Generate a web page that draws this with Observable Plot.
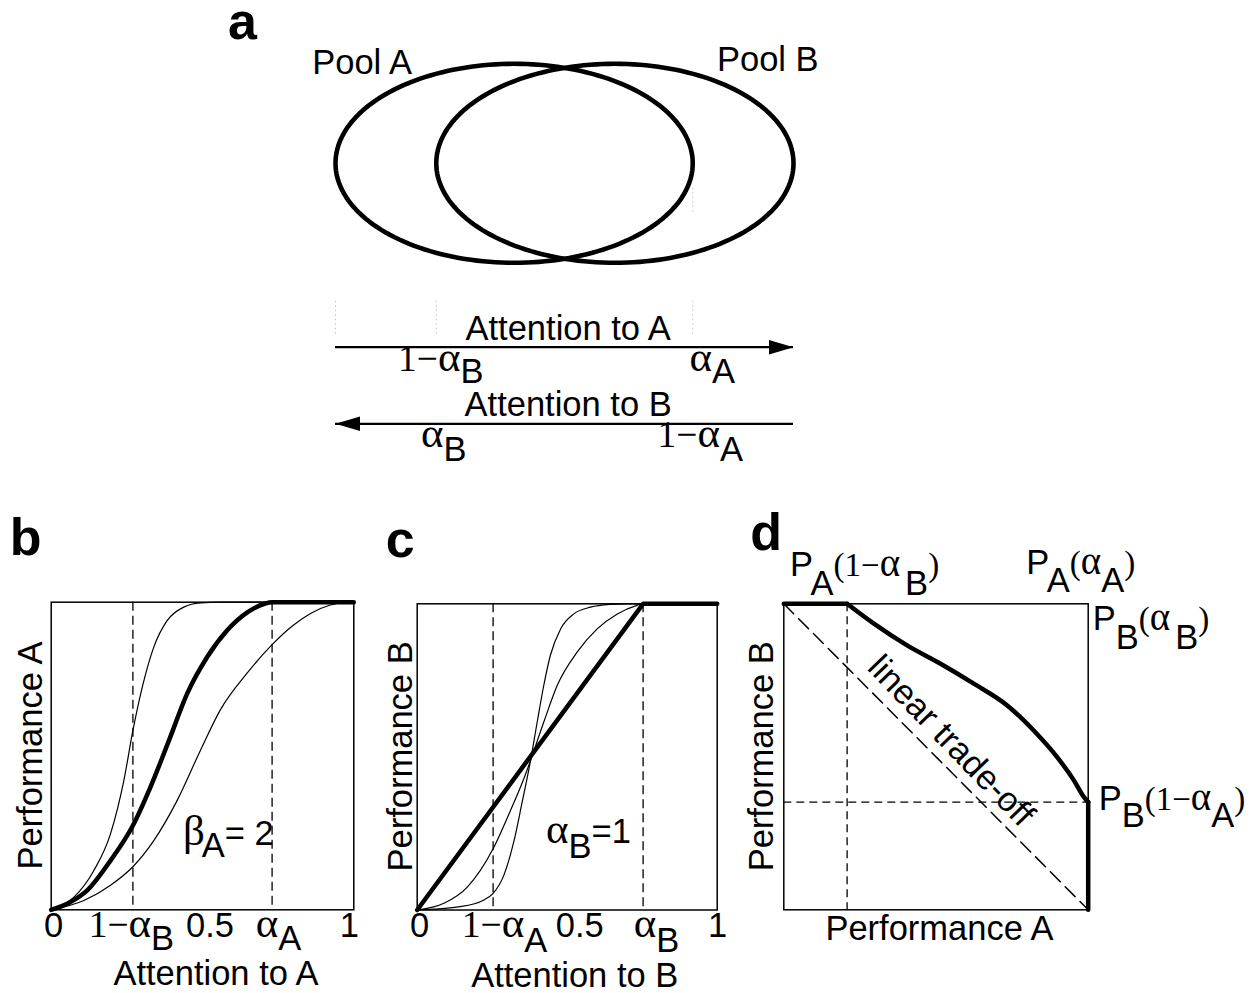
<!DOCTYPE html>
<html>
<head>
<meta charset="utf-8">
<script src="https://cdn.jsdelivr.net/npm/d3@7"></script>
<script src="https://cdn.jsdelivr.net/npm/@observablehq/plot@0.6"></script>
<style>
  html, body { margin: 0; padding: 0; background: #fff; }
  #figure { position: relative; width: 1250px; height: 993px; background: #fff; overflow: hidden; }
  #figure > svg { position: absolute; }
</style>
</head>
<body>
<div id="figure"></div>
<script>
// ---------- panel a: two overlapping pools on the attention axis ----------
const poolAlphaA = 0.78;                 // reach of pool A along "attention to A"
const poolAlphaB = 0.78;                 // reach of pool B along "attention to B"
const poolNames = ["Pool A", "Pool B"];
const poolSpans = [[0, poolAlphaA], [1 - poolAlphaB, 1]];
const arrowTitles = ["Attention to A", "Attention to B"];
const arrowSpans = [[0, 1], [1, 0]];     // [tail, head] in attention-to-A units
const arrowTickPos = [1 - poolAlphaB, poolAlphaA];
const arrowTickLabelsA = [[["1−", "r"], ["α", "g"], ["B", "_"]], [["α", "g"], ["A", "_"]]];
const arrowTickLabelsB = [[["α", "g"], ["B", "_"]], [["1−", "r"], ["α", "g"], ["A", "_"]]];

// ---------- panel b: performance A vs attention to A ----------
const bOneMinusAlphaB = 0.27, bAlphaA = 0.73;
const bTicks = [0, bOneMinusAlphaB, 0.5, bAlphaA, 1];
const bTickLabels = [[["0"]], [["1−", "r"], ["α", "g"], ["B", "_"]], [["0.5"]], [["α", "g"], ["A", "_"]], [["1"]]];
const bThick = [[0, 0], [0.053, 0.02], [0.119, 0.063], [0.196, 0.16], [0.27, 0.274], [0.328, 0.399],
  [0.389, 0.55], [0.449, 0.702], [0.515, 0.821], [0.581, 0.908], [0.648, 0.967], [0.705, 0.995], [0.73, 1], [1, 1]];
const bSteep = [[0, 0], [0.075, 0.041], [0.141, 0.128], [0.196, 0.247], [0.24, 0.42], [0.27, 0.583],
  [0.301, 0.724], [0.339, 0.854], [0.383, 0.94], [0.438, 0.984], [0.493, 0.998], [0.56, 1], [1, 1]];
const bShallow = [[0, 0], [0.108, 0.03], [0.196, 0.08], [0.27, 0.14], [0.339, 0.225], [0.416, 0.355],
  [0.493, 0.518], [0.559, 0.65], [0.648, 0.77], [0.73, 0.862], [0.8, 0.925], [0.86, 0.965], [0.92, 0.99],
  [0.97, 0.999], [1, 1]];

// ---------- panel c: performance B vs attention to B ----------
const cOneMinusAlphaA = 0.253, cAlphaB = 0.753;
const cTicks = [0, cOneMinusAlphaA, 0.5, cAlphaB, 1];
const cTickLabels = [[["0"]], [["1−", "r"], ["α", "g"], ["A", "_"]], [["0.5"]], [["α", "g"], ["B", "_"]], [["1"]]];
const cThick = [[0, 0], [cAlphaB, 1], [1, 1]];
const cMid = [[0, 0], [0.089, 0.022], [0.167, 0.075], [0.253, 0.2], [0.311, 0.325], [0.356, 0.43],
  [0.378, 0.489], [0.422, 0.614], [0.467, 0.734], [0.533, 0.842], [0.6, 0.918], [0.667, 0.967], [0.733, 0.995], [0.753, 1], [1, 1]];
const cSteep = [[0, 0], [0.144, 0.011], [0.222, 0.033], [0.253, 0.054], [0.289, 0.114], [0.322, 0.223],
  [0.35, 0.353], [0.378, 0.489], [0.4, 0.614], [0.422, 0.734], [0.444, 0.832], [0.478, 0.918],
  [0.522, 0.967], [0.578, 0.989], [0.644, 0.998], [0.7, 1], [1, 1]];

// ---------- panel d: performance B vs performance A ----------
const dPA_oneMinusAlphaB = 0.208;        // P_A(1−α_B)
const dPB_oneMinusAlphaA = 0.352;        // P_B(1−α_A)
const dTop = [[0, 1], [dPA_oneMinusAlphaB, 1]];
const dCurve = [[dPA_oneMinusAlphaB, 1], [0.296, 0.935], [0.405, 0.864], [0.515, 0.804], [0.624, 0.739],
  [0.734, 0.668], [0.821, 0.586], [0.898, 0.499], [0.953, 0.423], [0.986, 0.368], [1, dPB_oneMinusAlphaA]];
const dDrop = [[1, dPB_oneMinusAlphaA], [1, 0]];
const dLinear = [[0, 1], [1, 0]];

// ---------- drawing ----------
const SANS = "'Liberation Sans', Arial, Helvetica, sans-serif";
const SERIF = "'Liberation Serif', 'Times New Roman', Times, serif";
const FS = 34.5;        // sans text
const fig = document.getElementById("figure");

function place(node, left, top) {
  node.style.left = left + "px";
  node.style.top = top + "px";
  fig.appendChild(node);
}

function scales(plot) {
  const f = (name) => {
    const s = plot.scale(name);
    return s.apply ? (v) => s.apply(v) : d3.scaleLinear(s.domain, s.range);
  };
  return [f("x"), f("y")];
}

// Text with sans/serif runs and lowered subscripts; a part is [string, kind, dx].
// kind: "" sans, "r" serif digits/brackets, "g" serif greek, "_" lowered subscript.
function rich(svg, x, y, parts, {anchor = "middle", rotate = 0, sub = 13, size = FS, weight = "normal",
                                  serif = 37.5, greek = 43} = {}) {
  const text = d3.select(svg).append("text")
    .attr("x", x).attr("y", y)
    .attr("text-anchor", anchor)
    .attr("fill", "black")
    .style("font-family", SANS)
    .style("font-size", size + "px")
    .style("font-weight", weight);
  if (rotate) text.attr("transform", `rotate(${rotate} ${x} ${y})`);
  let level = 0;
  for (const [str, kind = "", dx = 0] of parts) {
    const lower = kind.includes("_") ? sub : 0;
    const span = text.append("tspan").attr("dy", lower - level).text(str);
    if (dx) span.attr("dx", dx);
    if (kind.includes("r")) span.style("font-family", SERIF).style("font-size", serif + "px");
    if (kind.includes("g")) span.style("font-family", SERIF).style("font-size", greek + "px");
    level = lower;
  }
  return text;
}

function letter(svg, x, y, ch) {
  rich(svg, x, y, [[ch]], {anchor: "start", size: 52, weight: "bold"});
}

const px = (d) => d[0], py = (d) => d[1];
const common = {axis: null, style: {background: "none", overflow: "visible", fontFamily: SANS}};

// ----- panel a, pools -----
const angles = d3.range(0, 360, 2).map((a) => a * Math.PI / 180);
const outlines = poolSpans.flatMap(([x0, x1], i) =>
  angles.map((t) => ({pool: poolNames[i], x: (x0 + x1) / 2 + (x1 - x0) / 2 * Math.cos(t), y: Math.sin(t)})));

const plotA = Plot.plot({
  ...common, width: 1250, height: 290,
  marginLeft: 335, marginRight: 457, marginTop: 63.3, marginBottom: 27.7,
  x: {domain: [0, 1]}, y: {domain: [-1, 1]},
  marks: [
    Plot.ruleX([poolAlphaA], {y1: -0.25, y2: -0.5, stroke: "#c4c4c4", strokeDasharray: "1.5,3"}),
    Plot.line(outlines, {x: "x", y: "y", z: "pool", stroke: "black", strokeWidth: 4.6, curve: "linear-closed"})
  ]
});
place(plotA, 0, 0);
{
  const [sx, sy] = scales(plotA);
  rich(plotA, sx(0.168), sy(0.89), [[poolNames[0]]], {anchor: "end"});
  rich(plotA, sx(0.834), sy(0.922), [[poolNames[1]]], {anchor: "start"});
  letter(plotA, sx(0) - 107, 39, "a");
}

// ----- panel a, attention arrows -----
const arrows = arrowSpans.map(([from, to], row) => ({row, from, to, title: arrowTitles[row]}));
function headSymbol(dir) {
  return {
    draw(context, size) {
      const r = Math.sqrt(size / Math.PI);
      const len = r * 3.4 * dir;
      context.moveTo(0, 0);
      context.lineTo(-len, -r);
      context.lineTo(-len, r);
      context.closePath();
    }
  };
}
const plotArrows = Plot.plot({
  ...common, width: 1250, height: 190,
  marginLeft: 335, marginRight: 457, marginTop: 0, marginBottom: 0,
  x: {domain: [0, 1]}, y: {domain: [0, 1], range: [56.7, 133.3]},
  marks: [
    Plot.ruleX([0, ...arrowTickPos], {y1: -0.6, y2: -0.15, stroke: "#c4c4c4", strokeDasharray: "1.5,3"}),
    Plot.ruleY(arrows, {y: "row", x1: "from", x2: "to", stroke: "black", strokeWidth: 2.2}),
    Plot.dot(arrows.filter((d) => d.to > d.from), {x: "to", y: "row", r: 7.2, symbol: headSymbol(1), fill: "black", stroke: "none"}),
    Plot.dot(arrows.filter((d) => d.to < d.from), {x: "to", y: "row", r: 7.2, symbol: headSymbol(-1), fill: "black", stroke: "none"})
  ]
});
place(plotArrows, 0, 290);
{
  const [sx, sy] = scales(plotArrows);
  arrows.forEach((a) => rich(plotArrows, sx(0.509), sy(a.row) - 7, [[a.title]]));
  const nudgeA = [5, 20], nudgeB = [8, 8];
  arrowTickPos.forEach((t, i) => {
    rich(plotArrows, sx(t) + nudgeA[i], sy(0) + 24, arrowTickLabelsA[i], {sub: 12});
    rich(plotArrows, sx(t) + nudgeB[i], sy(1) + 24, arrowTickLabelsB[i], {sub: 14});
  });
}

// ----- panels b and c -----
function curvesPanel({left, margins, guides, thick, thin, thickCurve}) {
  const plot = Plot.plot({
    ...common, width: margins.width, height: 493,
    marginLeft: margins.l, marginRight: margins.r, marginTop: margins.t, marginBottom: margins.b,
    x: {domain: [0, 1]}, y: {domain: [0, 1]},
    marks: [
      Plot.frame({stroke: "black", strokeWidth: 1.5}),
      Plot.ruleX(guides, {stroke: "black", strokeWidth: 1.3, strokeDasharray: "9,5"}),
      ...thin.map((c) => Plot.line(c, {x: px, y: py, curve: "monotone-x", stroke: "black", strokeWidth: 1.2})),
      Plot.line(thick, {x: px, y: py, curve: thickCurve, stroke: "black", strokeWidth: 4.5})
    ]
  });
  place(plot, left, 500);
  return plot;
}

const plotB = curvesPanel({
  left: 0, margins: {width: 420, l: 50.7, r: 66.7, t: 101.7, b: 83.7},
  guides: [bOneMinusAlphaB, bAlphaA], thick: bThick, thin: [bSteep, bShallow], thickCurve: "monotone-x"
});
{
  const [sx, sy] = scales(plotB);
  const nudge = [3, -1, 8, 7, -4];
  bTicks.forEach((t, i) => rich(plotB, sx(t) + nudge[i], sy(0) + 27.4, bTickLabels[i], {sub: 13}));
  rich(plotB, sx(0) - 9, sy(0.5), [["Performance A"]], {rotate: -90});
  rich(plotB, sx(0.5) + 14, sy(0) + 76, [["Attention to A"]]);
  rich(plotB, sx(0.437), sy(0.209), [["β", "g"], ["A", "_", -3], ["= 2"]], {anchor: "start", sub: 12});
  letter(plotB, sx(0) - 41, sy(1) - 47, "b");
}

const plotC = curvesPanel({
  left: 370, margins: {width: 380, l: 46.7, r: 33.3, t: 103.3, b: 83.5},
  guides: [cOneMinusAlphaA, cAlphaB], thick: cThick, thin: [cMid, cSteep], thickCurve: "linear"
});
{
  const [sx, sy] = scales(plotC);
  const nudge = [3, 12, 13, 14, 1];
  cTicks.forEach((t, i) => rich(plotC, sx(t) + nudge[i], sy(0) + 27.4, cTickLabels[i], {sub: 15}));
  rich(plotC, sx(0) - 5, sy(0.5), [["Performance B"]], {rotate: -90});
  rich(plotC, sx(0.5) + 8, sy(0) + 77, [["Attention to B"]]);
  rich(plotC, sx(0.431), sy(0.218), [["α", "g"], ["B", "_"], ["=1"]], {anchor: "start", sub: 15});
  letter(plotC, sx(0) - 31, sy(1) - 46, "c");
}

// ----- panel d -----
const plotD = Plot.plot({
  ...common, width: 510, height: 493,
  marginLeft: 43.3, marginRight: 162.3, marginTop: 103.3, marginBottom: 83.7,
  x: {domain: [0, 1]}, y: {domain: [0, 1]},
  marks: [
    Plot.frame({stroke: "black", strokeWidth: 1.5}),
    Plot.ruleX([dPA_oneMinusAlphaB], {stroke: "black", strokeWidth: 1.3, strokeDasharray: "8,5"}),
    Plot.ruleY([dPB_oneMinusAlphaA], {stroke: "black", strokeWidth: 1.3, strokeDasharray: "8,5"}),
    Plot.line(dLinear, {x: px, y: py, stroke: "black", strokeWidth: 1.5, strokeDasharray: "14,7"}),
    Plot.line(dTop, {x: px, y: py, stroke: "black", strokeWidth: 4.5}),
    Plot.line(dCurve, {x: px, y: py, curve: "monotone-x", stroke: "black", strokeWidth: 4.5}),
    Plot.line(dDrop, {x: px, y: py, stroke: "black", strokeWidth: 4.5})
  ]
});
place(plotD, 740, 500);
{
  const [sx, sy] = scales(plotD);
  const compact = {serif: 33, greek: 39};
  rich(plotD, sx(0) - 10, sy(0.5), [["Performance B"]], {rotate: -90});
  rich(plotD, sx(0.5) + 4, sy(0) + 31, [["Performance A"]]);
  rich(plotD, sx(dPA_oneMinusAlphaB) + 18, sy(1) - 27,
    [["P"], ["A", "_"], ["(1−", "r"], ["α", "g"], ["B", "_", 5], [")", "r"]], {sub: 19, ...compact});
  rich(plotD, sx(1) - 7, sy(1) - 29,
    [["P"], ["A", "_"], ["(", "r"], ["α", "g"], ["A", "_"], [")", "r"]], {sub: 18, ...compact});
  rich(plotD, sx(1) + 5, sy(1) + 27,
    [["P"], ["B", "_"], ["(", "r"], ["α", "g"], ["B", "_", 5], [")", "r"]], {anchor: "start", sub: 19, ...compact});
  rich(plotD, sx(1) + 11, sy(dPB_oneMinusAlphaA) + 8,
    [["P"], ["B", "_"], ["(1−", "r"], ["α", "g"], ["A", "_"], [")", "r"]], {anchor: "start", sub: 17, ...compact});
  rich(plotD, sx(0.525), sy(0.525), [["linear trade-off"]], {rotate: 46});
  letter(plotD, sx(0) - 33, sy(1) - 53, "d");
}
</script>
</body>
</html>
